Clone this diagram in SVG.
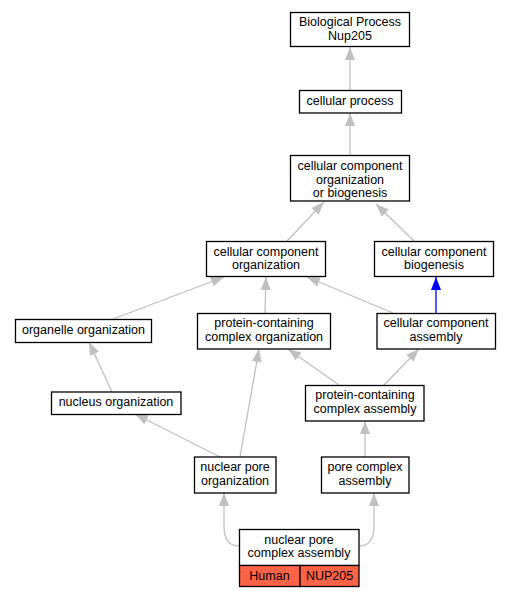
<svg xmlns="http://www.w3.org/2000/svg" width="511" height="597" viewBox="0 0 511 597">
<style>
.n rect{fill:#fff;stroke:#000;stroke-width:1.3}
text{font-family:"Liberation Sans",Arial,sans-serif;font-size:12.5px;text-anchor:middle;fill:#000}
.e path{fill:none;stroke:#c0c0c0;stroke-width:1.3}
.e path.b{stroke:#0000ff}
.n rect.h{fill:#ff6347}
</style>
<defs>
<marker id="ag" markerUnits="userSpaceOnUse" markerWidth="14" markerHeight="12" refX="13" refY="5.5" orient="auto"><path d="M0,0.5 L13,5.5 L0,10.5 z" fill="#c0c0c0"/></marker>
<marker id="ab" markerUnits="userSpaceOnUse" markerWidth="14" markerHeight="12" refX="13" refY="5.5" orient="auto"><path d="M0,0.5 L13,5.5 L0,10.5 z" fill="#0000ff"/></marker>
</defs>
<rect width="511" height="597" fill="#fff"/>
<g class="e" id="edges">
<path d="M350,90 L350,47" marker-end="url(#ag)"/>
<path d="M350,155 L350,113" marker-end="url(#ag)"/>
<path d="M287,241 L324,202" marker-end="url(#ag)"/>
<path d="M414,241 L376,204" marker-end="url(#ag)"/>
<path d="M113,319 L224,277" marker-end="url(#ag)"/>
<path d="M265,313 L266,277" marker-end="url(#ag)"/>
<path d="M393,313 L307,277" marker-end="url(#ag)"/>
<path class="b" d="M436,313 L436,277" marker-end="url(#ab)"/>
<path d="M112,392 L89,342" marker-end="url(#ag)"/>
<path d="M339,385 L288,349" marker-end="url(#ag)"/>
<path d="M384,385 L419,349" marker-end="url(#ag)"/>
<path d="M220,457 L135,414" marker-end="url(#ag)"/>
<path d="M240,457 L259,349" marker-end="url(#ag)"/>
<path d="M365,457 L365,421" marker-end="url(#ag)"/>
<path d="M239,546 C228,546 224,538 224,526 L224,493" marker-end="url(#ag)"/>
<path d="M359,546 C370,546 374,538 374,526 L374,493" marker-end="url(#ag)"/>
</g>
<g class="n" id="n_bp"><rect x="290.5" y="12.5" width="119" height="34"/><text x="350" y="26">Biological Process</text><text x="350" y="39.5">Nup205</text></g>
<g class="n" id="n_cp"><rect x="299.5" y="90.5" width="102" height="22.5"/><text x="350" y="105">cellular process</text></g>
<g class="n" id="n_ccob"><rect x="290.5" y="155.5" width="119" height="45.5"/><text x="350" y="170">cellular component</text><text x="350" y="183.5">organization</text><text x="350" y="197">or biogenesis</text></g>
<g class="n" id="n_cco"><rect x="206.5" y="241.5" width="119" height="35"/><text x="266" y="255.5">cellular component</text><text x="266" y="269">organization</text></g>
<g class="n" id="n_ccb"><rect x="374.5" y="241.5" width="119" height="35"/><text x="434" y="255.5">cellular component</text><text x="434" y="269">biogenesis</text></g>
<g class="n" id="n_oo"><rect x="15.5" y="319.5" width="136" height="23"/><text x="83.5" y="334">organelle organization</text></g>
<g class="n" id="n_pco"><rect x="197.5" y="313.5" width="133" height="35.5"/><text x="264" y="327">protein-containing</text><text x="264" y="341">complex organization</text></g>
<g class="n" id="n_cca"><rect x="377" y="313.5" width="118.5" height="35.5"/><text x="436" y="327">cellular component</text><text x="436" y="341">assembly</text></g>
<g class="n" id="n_no"><rect x="51.5" y="392" width="129.5" height="22.5"/><text x="116" y="406">nucleus organization</text></g>
<g class="n" id="n_pca"><rect x="305.5" y="385.5" width="118.5" height="35.5"/><text x="365" y="399">protein-containing</text><text x="365" y="413">complex assembly</text></g>
<g class="n" id="n_npo"><rect x="194.5" y="457" width="81.5" height="36"/><text x="235" y="470.5">nuclear pore</text><text x="235" y="485">organization</text></g>
<g class="n" id="n_pcoa"><rect x="321.5" y="457" width="87.5" height="36"/><text x="365" y="470.5">pore complex</text><text x="365" y="485">assembly</text></g>
<g class="n" id="n_npca"><rect x="239.5" y="529.5" width="119.5" height="36"/><rect class="h" x="239.5" y="565.5" width="60.5" height="21"/><rect class="h" x="300" y="565.5" width="59" height="21"/><text x="299" y="543.5">nuclear pore</text><text x="299" y="557">complex assembly</text><text x="269.5" y="580">Human</text><text x="329.5" y="580">NUP205</text></g>
</svg>
